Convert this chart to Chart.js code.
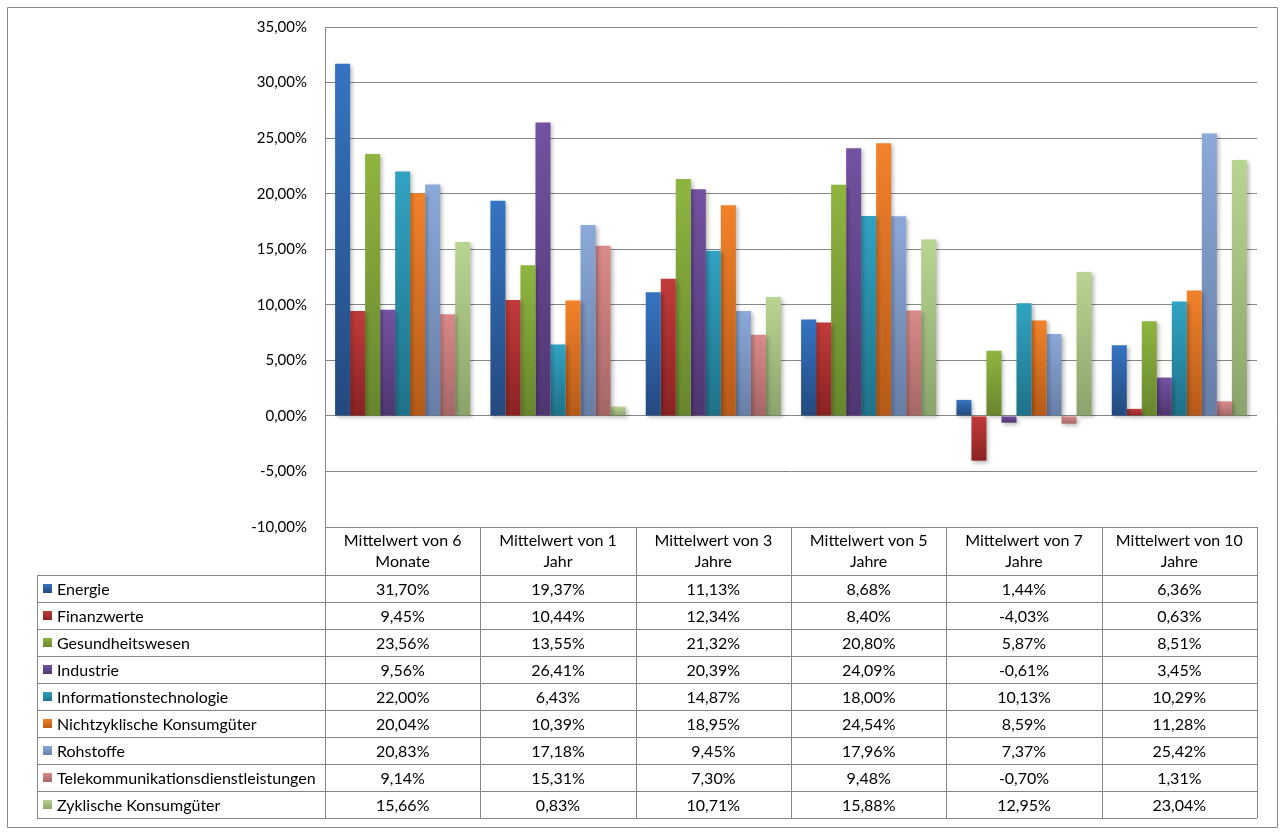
<!DOCTYPE html>
<html>
<head>
<meta charset="utf-8">
<script src="https://cdn.jsdelivr.net/npm/chart.js@4.4.0/dist/chart.umd.min.js"></script>
<style>
  body { margin: 0; background: #fff; }
</style>
</head>
<body>
<canvas id="chart" width="1283" height="834"></canvas>
<script>
// categories (two-line header labels of the data table)
const categories = [
  ["Mittelwert von 6", "Monate"],
  ["Mittelwert von 1", "Jahr"],
  ["Mittelwert von 3", "Jahre"],
  ["Mittelwert von 5", "Jahre"],
  ["Mittelwert von 7", "Jahre"],
  ["Mittelwert von 10", "Jahre"]
]

const seriesNames = [
  "Energie",
  "Finanzwerte",
  "Gesundheitswesen",
  "Industrie",
  "Informationstechnologie",
  "Nichtzyklische Konsumgüter",
  "Rohstoffe",
  "Telekommunikationsdienstleistungen",
  "Zyklische Konsumgüter"
]

// values in percent
const energie         = [31.70, 19.37, 11.13,  8.68,  1.44,  6.36]
const finanzwerte     = [ 9.45, 10.44, 12.34,  8.40, -4.03,  0.63]
const gesundheit      = [23.56, 13.55, 21.32, 20.80,  5.87,  8.51]
const industrie       = [ 9.56, 26.41, 20.39, 24.09, -0.61,  3.45]
const infoTech        = [22.00,  6.43, 14.87, 18.00, 10.13, 10.29]
const nichtzyklisch   = [20.04, 10.39, 18.95, 24.54,  8.59, 11.28]
const rohstoffe       = [20.83, 17.18,  9.45, 17.96,  7.37, 25.42]
const telekom         = [ 9.14, 15.31,  7.30,  9.48, -0.70,  1.31]
const zyklisch        = [15.66,  0.83, 10.71, 15.88, 12.95, 23.04]

const seriesValues = [energie, finanzwerte, gesundheit, industrie, infoTech,
  nichtzyklisch, rohstoffe, telekom, zyklisch]

// y axis ticks
const yMin = -10
const yMax = 35
const yStep = 5

// gradient colours, top -> bottom
const topColors = ['#3574c2', '#c23b3b', '#8fb540', '#7352a2', '#31a3c2', '#f2822a', '#8ba9d9', '#da8a8a', '#b9d592']
const bottomColors = ['#24497f', '#8a2222', '#67862d', '#4e3670', '#1f7189', '#b65a18', '#677ea6', '#a66666', '#8aa36b']

const FONT = 'Lato, "Liberation Sans", sans-serif'
const GRID = '#868686'

const fmt = v => v.toFixed(2).replace('.', ',') + '%'

const barGradient = (c, i) => {
  const chart = c.chart
  if (!chart.chartArea || c.parsed == null) return topColors[i]
  const y = chart.scales.y
  const y0 = y.getPixelForValue(0)
  const y1 = y.getPixelForValue(c.parsed.y)
  const top = Math.min(y0, y1), bot = Math.max(y0, y1) + 0.01
  const g = chart.ctx.createLinearGradient(0, top, 0, bot)
  g.addColorStop(0, topColors[i])
  g.addColorStop(1, bottomColors[i])
  return g
}

const datasets = seriesNames.map((name, i) => ({
  label: name,
  data: seriesValues[i],
  backgroundColor: c => barGradient(c, i),
  borderWidth: 0,
  categoryPercentage: 0.87,
  barPercentage: 1.0
}))

// drop shadow under the bars
const shadowPlugin = {
  id: 'barShadow',
  beforeDatasetsDraw(chart) {
    const ctx = chart.ctx
    ctx.save()
    ctx.shadowColor = 'rgba(0,0,0,0.28)'
    ctx.shadowBlur = 4
    ctx.shadowOffsetX = 2
    ctx.shadowOffsetY = 2
  },
  afterDatasetsDraw(chart) {
    chart.ctx.restore()
  }
}

// data table under the plot + outer border
const tablePlugin = {
  id: 'dataTable',
  afterDraw(chart) {
    const ctx = chart.ctx
    const area = chart.chartArea
    const xs = chart.scales.x
    const colW = (area.right - area.left) / categories.length
    const headTop = area.bottom
    const headBot = headTop + 48
    const rowH = 27
    const labelLeft = 37
    const tableBot = headBot + rowH * seriesNames.length
    const px = v => Math.round(v) + 0.5

    ctx.save()
    ctx.strokeStyle = GRID
    ctx.lineWidth = 1
    ctx.beginPath()
    for (let r = 0; r <= seriesNames.length; r++) {
      const yy = px(headBot + r * rowH)
      ctx.moveTo(labelLeft, yy)
      ctx.lineTo(area.right, yy)
    }
    for (let i = 0; i <= categories.length; i++) {
      const xx = px(area.left + i * colW)
      ctx.moveTo(xx, headTop)
      ctx.lineTo(xx, tableBot)
    }
    ctx.moveTo(px(labelLeft), headBot)
    ctx.lineTo(px(labelLeft), tableBot)
    // outer chart border
    ctx.rect(7.5, 7.5, 1270, 820)
    ctx.stroke()

    ctx.fillStyle = '#000'
    ctx.font = '16px ' + FONT
    ctx.textAlign = 'center'
    ctx.textBaseline = 'middle'
    categories.forEach((lines, i) => {
      const cx = xs.getPixelForValue(i)
      ctx.fillText(lines[0], cx, headTop + 14)
      ctx.fillText(lines[1], cx, headTop + 35)
      seriesValues.forEach((vals, r) => {
        ctx.fillText(fmt(vals[i]), cx, headBot + r * rowH + rowH / 2 + 1)
      })
    })

    ctx.textAlign = 'left'
    seriesNames.forEach((name, r) => {
      const cy = headBot + r * rowH + rowH / 2
      const g = ctx.createLinearGradient(0, cy - 5, 0, cy + 5)
      g.addColorStop(0, topColors[r])
      g.addColorStop(1, bottomColors[r])
      ctx.fillStyle = g
      ctx.fillRect(43, Math.round(cy - 5), 9, 9)
      ctx.fillStyle = '#000'
      ctx.fillText(name, 57, cy + 1)
    })
    ctx.restore()
  }
}

const chart = new Chart(document.getElementById('chart'), {
  type: 'bar',
  data: {
    labels: categories,
    datasets: datasets
  },
  options: {
    responsive: false,
    animation: false,
    devicePixelRatio: 1,
    layout: {
      padding: { left: 0, top: 26, right: 26, bottom: 307 }
    },
    plugins: {
      legend: { display: false },
      tooltip: { enabled: false }
    },
    scales: {
      x: {
        display: false
      },
      y: {
        min: yMin,
        max: yMax,
        afterFit: scale => { scale.width = 325 },
        ticks: {
          stepSize: yStep,
          padding: 18,
          color: '#000',
          font: { family: FONT, size: 15 },
          callback: v => fmt(v)
        },
        grid: {
          color: GRID,
          lineWidth: 1,
          drawTicks: false
        },
        border: { color: GRID, width: 1 }
      }
    }
  },
  plugins: [shadowPlugin, tablePlugin]
})
</script>
</body>
</html>
